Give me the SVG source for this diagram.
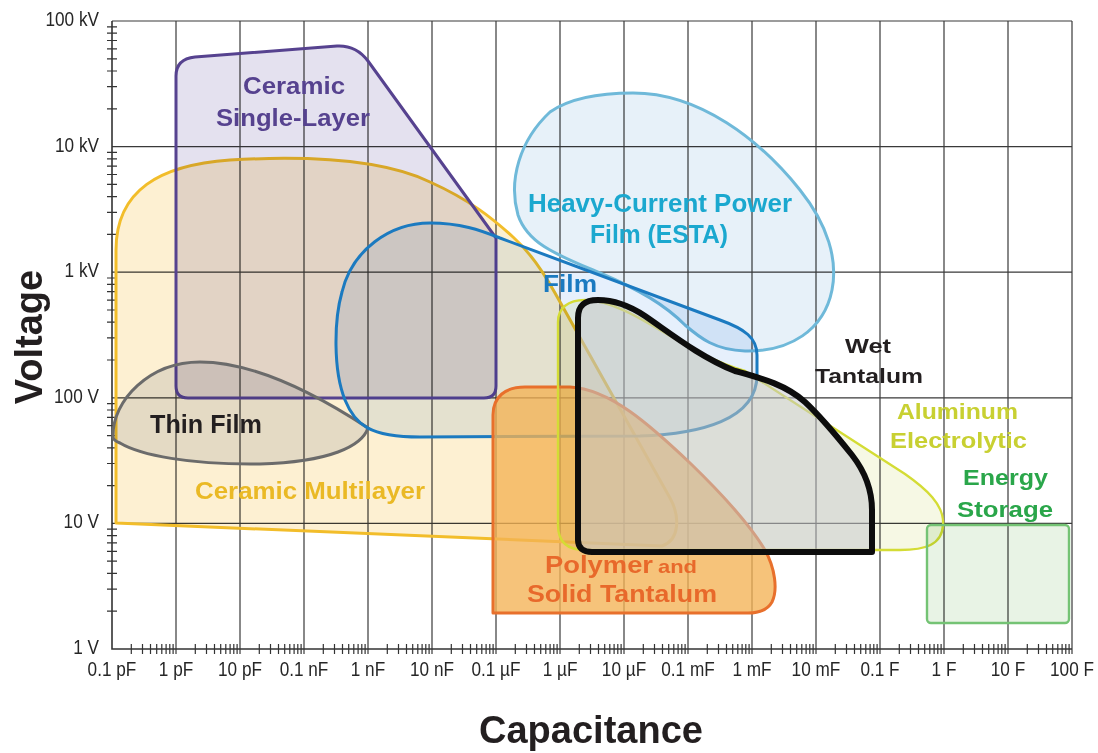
<svg xmlns="http://www.w3.org/2000/svg" xmlns:xlink="http://www.w3.org/1999/xlink" width="1098" height="753" viewBox="0 0 1098 753">
<style>
.grid{stroke:#3a3a3a;stroke-width:1.2;fill:none}
.axis{stroke:#333;stroke-width:1.6;fill:none}
.tick{stroke:#333;stroke-width:1.2;fill:none}
.tl{font-family:"Liberation Sans",Arial,sans-serif;font-size:20px;fill:#262626}
.ttl{font-family:"Liberation Sans",Arial,sans-serif;font-weight:bold;fill:#231f20;font-size:38px;text-anchor:middle}
.lbl{font-family:"Liberation Sans",Arial,sans-serif;font-weight:bold;text-anchor:middle}
.mul{mix-blend-mode:multiply;stroke:none}
.ol{fill:none;stroke-width:3;stroke-linejoin:round}
.ol6{fill:none;stroke-width:6;stroke-linejoin:round}
.ol2{fill:none;stroke-width:2.4;stroke-linejoin:round}
</style>
<defs>
<path id="xt" d="M131.3,644v10M142.5,644v10M150.5,644v10M156.7,644v10M161.8,644v10M166.1,644v10M169.8,644v10M173.1,644v10"/>
<path id="yt" d="M107,108.8h10M107,86.7h10M107,71h10M107,58.8h10M107,48.9h10M107,40.5h10M107,33.2h10M107,26.8h10"/>
<path id="p-ml" d="M116,523 L116,250 C116,190 160,165 230,160 C300,156 380,158 430,182 C470,200 492,218 513,237 C530,252 545,275 555,293 L670,498 C680,516 680,540 662,546 Z"/>
<path id="p-sl" d="M176,386 L176,76 Q176,59 195,57 L337,46 Q356,45 368,61 L496,238 L496,386 Q496,398 484,398 L188,398 Q176,398 176,386 Z"/>
<path id="p-tf" d="M113,437 C112,400 150,362 200,362 C250,362 310,390 368,428 C362,446 330,462 260,464 C190,465 140,455 120,443 C115,441 113,439 113,437 Z"/>
<path id="p-esta" d="M633,93 C700,93 760,140 800,190 C828,225 838,260 832,290 C824,330 790,352 745,351 C715,350 700,338 685,325 C665,305 640,290 600,273 C560,256 528,245 518,215 C508,180 520,140 550,112 C570,98 600,93 633,93 Z"/>
<path id="p-film" d="M430,223 C460,223 480,230 500,238 L720,320 C745,329 757,338 757,355 L757,375 C757,420 700,434 640,436 L420,437 C370,437 355,425 345,400 C333,370 334,320 342,292 C352,250 390,223 430,223 Z"/>
<path id="p-poly" d="M493,613 L493,415 C493,397 505,387 525,387 L570,387 C610,389 650,425 690,463 C720,492 750,525 765,550 C775,568 778,590 772,602 C767,611 758,613 748,613 Z"/>
<path id="p-al" d="M558,525 L558,322 C558,308 568,300 585,300 C610,300 640,318 665,333 C690,348 715,362 745,371 L905,474 C925,488 945,505 943,525 C942,545 925,550 900,550 L585,550 C568,550 558,542 558,525 Z"/>
<path id="p-wet" d="M578,540 L578,318 C578,305 585,300 598,300 C615,300 630,306 645,316 C670,333 700,357 735,371 C760,378 785,384 805,402 C820,416 840,440 852,455 C866,473 872,490 872,510 L872,552 L592,552 C583,552 578,548 578,540 Z"/>
</defs>
<rect width="1098" height="753" fill="#fff"/>
<g id="axes">
<path class="grid" d="M176,21V654M240,21V654M304,21V654M368,21V654M432,21V654M496,21V654M560,21V654M624,21V654M688,21V654M752,21V654M816,21V654M880,21V654M944,21V654M1008,21V654M1072,21V654M112,21H1072M112,146.6H1072M112,272.2H1072M112,397.8H1072M112,523.4H1072"/>
<g class="tick">
<use href="#xt"/><use href="#xt" x="64"/><use href="#xt" x="128"/><use href="#xt" x="192"/><use href="#xt" x="256"/><use href="#xt" x="320"/><use href="#xt" x="384"/><use href="#xt" x="448"/><use href="#xt" x="512"/><use href="#xt" x="576"/><use href="#xt" x="640"/><use href="#xt" x="704"/><use href="#xt" x="768"/><use href="#xt" x="832"/><use href="#xt" x="896"/>
<use href="#yt"/><use href="#yt" y="125.6"/><use href="#yt" y="251.2"/><use href="#yt" y="376.8"/><use href="#yt" y="502.4"/>
</g>
<path class="axis" d="M112,21V649H1072"/>
<g class="tl" transform="scale(0.86,1)" text-anchor="end">
<text x="115.1" y="26">100 kV</text>
<text x="115.1" y="151.6">10 kV</text>
<text x="115.1" y="277.2">1 kV</text>
<text x="115.1" y="402.8">100 V</text>
<text x="115.1" y="528.4">10 V</text>
<text x="115.1" y="654">1 V</text>
</g>
<g class="tl" transform="scale(0.86,1)" text-anchor="middle">
<text x="130.2" y="676">0.1 pF</text>
<text x="204.7" y="676">1 pF</text>
<text x="279.1" y="676">10 pF</text>
<text x="353.5" y="676">0.1 nF</text>
<text x="427.9" y="676">1 nF</text>
<text x="502.3" y="676">10 nF</text>
<text x="576.7" y="676">0.1 µF</text>
<text x="651.2" y="676">1 µF</text>
<text x="725.6" y="676">10 µF</text>
<text x="800" y="676">0.1 mF</text>
<text x="874.4" y="676">1 mF</text>
<text x="948.8" y="676">10 mF</text>
<text x="1023.3" y="676">0.1 F</text>
<text x="1097.7" y="676">1 F</text>
<text x="1172.1" y="676">10 F</text>
<text x="1246.5" y="676">100 F</text>
</g>
<text class="ttl" x="591" y="743">Capacitance</text>
<text class="ttl" transform="translate(42,337) rotate(-90)" x="0" y="0">Voltage</text>
</g>
<g id="ceramic-multilayer">
<use href="#p-ml" class="mul" fill="#fdf0d2"/>
<use href="#p-ml" class="ol" stroke="#f2bd2a"/>
<text class="lbl" x="310" y="499" font-size="24" fill="#eab925" textLength="230" lengthAdjust="spacingAndGlyphs">Ceramic Multilayer</text>
</g>
<g id="ceramic-single-layer">
<use href="#p-sl" class="mul" fill="#e4e1ef"/>
<use href="#p-sl" class="ol" stroke="#56428f"/>
<text class="lbl" x="294" y="94" font-size="23.5" fill="#56428f" textLength="102" lengthAdjust="spacingAndGlyphs">Ceramic</text>
<text class="lbl" x="293" y="126" font-size="23.5" fill="#56428f" textLength="154" lengthAdjust="spacingAndGlyphs">Single-Layer</text>
</g>
<g id="thin-film">
<use href="#p-tf" class="mul" fill="#e6e8ee"/>
<use href="#p-tf" class="ol" stroke="#6b6b6b"/>
<text class="lbl" x="206" y="433" font-size="25" fill="#231f20" textLength="112" lengthAdjust="spacingAndGlyphs">Thin Film</text>
</g>
<g id="heavy-current-power-film">
<use href="#p-esta" class="mul" fill="#e7f1f9"/>
<use href="#p-esta" class="ol" stroke="#6fb9d9"/>
<text class="lbl" x="660" y="212" font-size="25" fill="#1ba8cf" textLength="264" lengthAdjust="spacingAndGlyphs">Heavy-Current Power</text>
<text class="lbl" x="659" y="243" font-size="25" fill="#1ba8cf" textLength="138" lengthAdjust="spacingAndGlyphs">Film (ESTA)</text>
</g>
<g id="film">
<use href="#p-film" class="mul" fill="#e6f0fc"/>
<use href="#p-film" class="ol" stroke="#1b7ac0"/>
<text class="lbl" x="570" y="292" font-size="24" fill="#1b7ac0" textLength="54" lengthAdjust="spacingAndGlyphs">Film</text>
</g>
<g id="polymer-solid-tantalum">
<use href="#p-poly" fill="#f4b254" fill-opacity="0.78"/>
<use href="#p-poly" class="ol" stroke="#e8702c"/>
<text font-family="Liberation Sans, Arial, sans-serif" font-weight="bold" fill="#e8692b" y="573"><tspan x="545" font-size="23" textLength="108" lengthAdjust="spacingAndGlyphs">Polymer</tspan><tspan x="658" font-size="19" textLength="39" lengthAdjust="spacingAndGlyphs">and</tspan></text>
<text class="lbl" x="622" y="602" font-size="23" fill="#e8692b" textLength="190" lengthAdjust="spacingAndGlyphs">Solid Tantalum</text>
</g>
<g id="aluminum-electrolytic">
<use href="#p-al" class="mul" fill="#f6f8e4"/>
<use href="#p-al" class="ol2" stroke="#d4dc35"/>
<text class="lbl" x="957.5" y="419" font-size="22" fill="#c8d032" textLength="121" lengthAdjust="spacingAndGlyphs">Aluminum</text>
<text class="lbl" x="958.5" y="448" font-size="22" fill="#c8d032" textLength="137" lengthAdjust="spacingAndGlyphs">Electrolytic</text>
</g>
<g id="wet-tantalum">
<use href="#p-wet" fill="#c6c9ce" fill-opacity="0.55"/>
<use href="#p-wet" class="ol6" stroke="#0d0d0d"/>
<text class="lbl" x="868" y="353" font-size="21" fill="#231f20" textLength="46" lengthAdjust="spacingAndGlyphs">Wet</text>
<text class="lbl" x="869" y="383" font-size="21" fill="#231f20" textLength="108" lengthAdjust="spacingAndGlyphs">Tantalum</text>
</g>
<g id="energy-storage">
<rect x="927" y="525" width="142" height="98" rx="4" class="mul" fill="#e8f3e5"/>
<rect x="927" y="525" width="142" height="98" rx="4" class="ol2" stroke="#74c374"/>
<text class="lbl" x="1005.5" y="485" font-size="22" fill="#2aa64a" textLength="85" lengthAdjust="spacingAndGlyphs">Energy</text>
<text class="lbl" x="1005" y="517" font-size="22" fill="#2aa64a" textLength="96" lengthAdjust="spacingAndGlyphs">Storage</text>
</g>
</svg>
